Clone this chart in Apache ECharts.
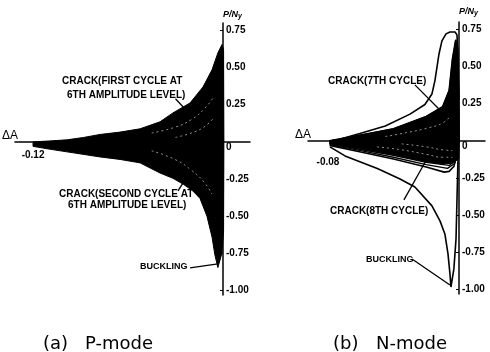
<!DOCTYPE html>
<html>
<head>
<meta charset="utf-8">
<script src="https://cdn.jsdelivr.net/npm/echarts@6/dist/echarts.min.js"></script>
<style>
  html, body { margin: 0; padding: 0; background: #fff; }
  #chart { width: 490px; height: 352px; }
</style>
</head>
<body>
<div id="chart"></div>
<script>
// tick labels
const yTicks = [0.75, 0.5, 0.25, 0, -0.25, -0.5, -0.75, -1.0];
const pTickX = [-0.12];
const nTickX = [-0.08];

// (a) P-mode : outline of the dense bundle of loops (dA, P/Ny)
const pEnvelope = [
  [-0.120, 0.000], [-0.110, 0.006], [-0.0985, 0.014], [-0.088, 0.030], [-0.0777, 0.050],
  [-0.065, 0.066], [-0.0524, 0.088], [-0.0398, 0.135], [-0.0316, 0.195], [-0.0208, 0.262],
  [-0.0126, 0.370], [-0.0069, 0.485], [-0.0032, 0.599], [-0.0006, 0.655], [0.0004, 0.62],
  [0.0006, 0.0], [0.0004, -0.60], [-0.0006, -0.747], [-0.0032, -0.845], [-0.0051, -0.76],
  [-0.0069, -0.64], [-0.0101, -0.50], [-0.0145, -0.38], [-0.0190, -0.33], [-0.0250, -0.285],
  [-0.0316, -0.245], [-0.0398, -0.209], [-0.0524, -0.141], [-0.065, -0.118], [-0.0777, -0.101],
  [-0.0985, -0.067], [-0.110, -0.048], [-0.120, -0.030], [-0.120, 0.000]
];
// (a) P-mode : light gaps between loops inside the bundle
const pGap1 = [[-0.045, 0.06], [-0.030, 0.10], [-0.020, 0.15], [-0.012, 0.22], [-0.006, 0.30]];
const pGap2 = [[-0.045, -0.06], [-0.030, -0.12], [-0.020, -0.19], [-0.012, -0.27], [-0.007, -0.35]];
const pGap3 = [[-0.030, 0.03], [-0.020, 0.06], [-0.012, 0.10], [-0.006, 0.16]];

// (b) N-mode : 7th cycle (crack) upper branch
const nCycle7 = [
  [-0.0788, -0.007], [-0.0605, 0.050], [-0.045, 0.100], [-0.0299, 0.180], [-0.0208, 0.245],
  [-0.0165, 0.316], [-0.0147, 0.404], [-0.0134, 0.498], [-0.0122, 0.585], [-0.0104, 0.673],
  [-0.0079, 0.720], [-0.0055, 0.733], [-0.0024, 0.733], [-0.0012, 0.713], [-0.0006, 0.552],
  [0.0, 0.28]
];
// (b) N-mode : buckling branch
const nBuckling = [
  [-0.0788, -0.040], [-0.0696, -0.101], [-0.0495, -0.188], [-0.0360, -0.256], [-0.0269, -0.310],
  [-0.0165, -0.437], [-0.0116, -0.538], [-0.0086, -0.626], [-0.0067, -0.760], [-0.0055, -0.895],
  [-0.0049, -0.983], [-0.0031, -0.861], [-0.0018, -0.659], [-0.0012, -0.390], [-0.0006, -0.121],
  [0.0, 0.0]
];
// (b) N-mode : dense part of the smaller loops
const nBand = [
  [-0.079, 0.0], [-0.060, 0.040], [-0.040, 0.082], [-0.020, 0.165], [-0.010, 0.230],
  [-0.006, 0.34], [-0.004, 0.55], [-0.002, 0.68], [-0.0008, 0.62], [0.0, 0.3],
  [0.0, -0.12], [-0.004, -0.15], [-0.010, -0.155], [-0.020, -0.14], [-0.040, -0.095],
  [-0.060, -0.055], [-0.079, -0.02]
];
// (b) N-mode : individual loops
const nLoop1 = [
  [-0.079, 0.00], [-0.060, 0.040], [-0.040, 0.082], [-0.020, 0.165], [-0.010, 0.230],
  [-0.0060, 0.34], [-0.0040, 0.55], [-0.0020, 0.68], [-0.0008, 0.62], [-0.0003, 0.30],
  [0.0, 0.0], [-0.0030, -0.17], [-0.0060, -0.205], [-0.009, -0.21], [-0.020, -0.176],
  [-0.040, -0.122], [-0.060, -0.075], [-0.079, -0.030]
];
const nLoop2 = [
  [-0.079, 0.00], [-0.060, 0.030], [-0.040, 0.065], [-0.020, 0.135], [-0.010, 0.195],
  [-0.0055, 0.30], [-0.0035, 0.48], [-0.0018, 0.58], [-0.0006, 0.45], [0.0, 0.0],
  [-0.0025, -0.15], [-0.007, -0.185], [-0.020, -0.160], [-0.040, -0.110], [-0.060, -0.065],
  [-0.079, -0.025]
];
const nLoop3 = [
  [-0.079, 0.00], [-0.060, 0.022], [-0.040, 0.050], [-0.020, 0.108], [-0.010, 0.165],
  [-0.005, 0.27], [-0.003, 0.40], [-0.0015, 0.48], [-0.0005, 0.35], [0.0, 0.0],
  [-0.002, -0.13], [-0.006, -0.165], [-0.020, -0.145], [-0.040, -0.098], [-0.060, -0.058],
  [-0.079, -0.020]
];
// (b) N-mode : light gaps inside the dense band
const nGap1 = [[-0.050, -0.040], [-0.035, -0.060], [-0.020, -0.090], [-0.010, -0.110], [-0.004, -0.110]];
const nGap2 = [[-0.035, -0.020], [-0.020, -0.040], [-0.010, -0.060], [-0.004, -0.065]];
const nGap3 = [[-0.045, 0.030], [-0.030, 0.060], [-0.018, 0.090], [-0.010, 0.120], [-0.005, 0.17]];

// leader lines for the notes
const pLeadCrack1 = [[-0.030, 0.29], [-0.022, 0.20]];
const pLeadCrack2 = [[-0.0284, -0.33], [-0.024, -0.255]];
const pLeadBuckle = [[-0.0208, -0.848], [-0.0032, -0.821]];
const nLeadCrack7 = [[-0.0269, 0.377], [-0.0104, 0.195]];
const nLeadCrack8 = [[-0.0336, -0.397], [-0.0189, -0.108]];
const nLeadBuckle = [[-0.0287, -0.794], [-0.0055, -0.969]];

const bold10 = 'bold 10px "Liberation Sans"';

function curve(points, idx, width) {
  return {
    type: 'line', xAxisIndex: idx, yAxisIndex: idx, data: points,
    symbol: 'none', silent: true, clip: false, z: 4,
    lineStyle: { color: '#000', width: width || 1.5 }
  };
}

function gap(points, idx) {
  return {
    type: 'line', xAxisIndex: idx, yAxisIndex: idx, data: points,
    symbol: 'none', silent: true, clip: false, z: 5, smooth: true,
    lineStyle: { color: '#fff', width: 0.8, type: [2, 3], opacity: 0.7 }
  };
}

function polygon(points, idx, fill) {
  return {
    type: 'custom', xAxisIndex: idx, yAxisIndex: idx, data: points,
    silent: true, clip: false, z: 3,
    renderItem(params, api) {
      if (params.dataIndex !== 0) return null;
      return {
        type: 'polygon',
        shape: { points: points.map(p => api.coord(p)) },
        style: { fill: fill, stroke: '#000', lineWidth: 1 }
      };
    }
  };
}

// offset moves the axis from the grid border onto the zero line
function xAxisOf(idx, min, max, ticks, labelMargin, offset) {
  return {
    gridIndex: idx, type: 'value', min: min, max: max,
    position: 'bottom', offset: offset,
    name: 'ΔA', nameLocation: 'start', nameGap: -3,
    nameTextStyle: { font: 'italic bold 10px "Liberation Sans"', color: '#000', align: 'right', verticalAlign: 'bottom' },
    axisLine: { onZero: false, lineStyle: { color: '#000', width: 1.5 } },
    axisTick: { show: false },
    splitLine: { show: false },
    axisLabel: {
      customValues: ticks, margin: labelMargin, color: '#000',
      fontWeight: 'bold', fontSize: 10, fontFamily: 'Liberation Sans',
      formatter: v => v.toFixed(2)
    }
  };
}

function yAxisOf(idx, nameGap, offset) {
  return {
    gridIndex: idx, type: 'value', min: -1.03, max: 0.8,
    position: 'right', offset: offset,
    name: 'P/N{s|y}', nameLocation: 'end', nameGap: nameGap,
    nameTextStyle: {
      fontStyle: 'italic', fontWeight: 'bold', fontSize: 9, fontFamily: 'Liberation Sans',
      color: '#000', align: 'left',
      rich: { s: { fontStyle: 'italic', fontWeight: 'bold', fontSize: 7, padding: [4, 0, 0, 0] } }
    },
    axisLine: { onZero: false, lineStyle: { color: '#000', width: 1.5 } },
    axisTick: { customValues: yTicks, inside: true, length: 3, lineStyle: { color: '#000' } },
    splitLine: { show: false },
    axisLabel: {
      customValues: yTicks, margin: 3, color: '#000',
      fontWeight: 'bold', fontSize: 10, fontFamily: 'Liberation Sans',
      formatter: v => (v === 0 ? '{z|0}' : v.toFixed(2)),
      rich: { z: { fontWeight: 'bold', fontSize: 10, padding: [10, 0, 0, 0] } }
    }
  };
}

function note(text, left, top, font) {
  return { type: 'text', left: left, top: top, silent: true, z: 100,
    style: { text: text, font: font || bold10, fill: '#000' } };
}

const caption = '18px "DejaVu Sans"';

const chart = echarts.init(document.getElementById('chart'));
chart.setOption({
  animation: false,
  backgroundColor: '#fff',
  grid: [
    { left: 15, top: 23, width: 235, height: 272, outerBoundsMode: 'none' },
    { left: 308, top: 22, width: 177, height: 272, outerBoundsMode: 'none' }
  ],
  xAxis: [
    xAxisOf(0, -0.1314, 0.0171, pTickX, 8, -153),
    xAxisOf(1, -0.0922, 0.0159, nTickX, 16, -153)
  ],
  yAxis: [yAxisOf(0, 3, -27), yAxisOf(1, 5, -26)],
  series: [
    polygon(pEnvelope, 0, '#000'),
    gap(pGap1, 0),
    gap(pGap2, 0),
    gap(pGap3, 0),
    curve(pLeadCrack1, 0, 1.3),
    curve(pLeadCrack2, 0, 1.3),
    curve(pLeadBuckle, 0, 1.3),
    polygon(nBand, 1, '#000'),
    gap(nGap1, 1),
    gap(nGap2, 1),
    gap(nGap3, 1),
    curve(nCycle7, 1, 1.6),
    curve(nBuckling, 1, 1.6),
    curve(nLoop1, 1, 1.6),
    curve(nLoop2, 1, 1.3),
    curve(nLoop3, 1, 1.3),
    curve(nLeadCrack7, 1, 1.3),
    curve(nLeadCrack8, 1, 1.3),
    curve(nLeadBuckle, 1, 1.3)
  ],
  graphic: [
    note('CRACK(FIRST CYCLE AT', 62, 76),
    note('6TH AMPLITUDE LEVEL)', 67, 90),
    note('CRACK(SECOND CYCLE AT', 59, 189),
    note('6TH AMPLITUDE LEVEL)', 68, 200),
    note('BUCKLING', 140, 262, 'bold 9px "Liberation Sans"'),
    note('CRACK(7TH CYCLE)', 328, 76),
    note('CRACK(8TH CYCLE)', 330, 206),
    note('BUCKLING', 366, 255, 'bold 9px "Liberation Sans"'),
    note('(a)', 43, 335, caption),
    note('P-mode', 85, 335, caption),
    note('(b)', 333, 335, caption),
    note('N-mode', 376, 335, caption)
  ]
});
</script>
</body>
</html>
